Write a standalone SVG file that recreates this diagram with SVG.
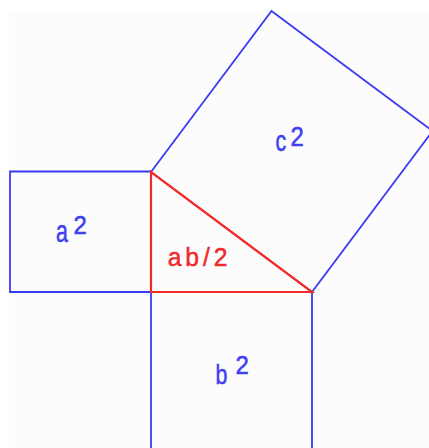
<svg xmlns="http://www.w3.org/2000/svg" width="429" height="448" viewBox="0 0 429 448">
  <style>
    .sq { fill: none; stroke: #3a3af2; stroke-width: 1.8; stroke-linejoin: miter; }
    .tri { fill: none; stroke: #f02a2a; stroke-width: 2.2; stroke-linejoin: miter; }
    .lb { font-family: "Liberation Sans", Arial, sans-serif; fill: #4040f0; stroke: #4040f0; stroke-width: 0.5; }
    .lr { font-family: "Liberation Sans", Arial, sans-serif; fill: #f02a2a; stroke: #f02a2a; stroke-width: 0.5; }
    .let { font-size: 26px; }
    .dig { font-size: 24px; }
  </style>
  <rect x="0" y="0" width="429" height="448" fill="#ffffff"/>
  <rect x="9" y="10" width="420" height="438" fill="#fcfcfd"/>

  <g id="square-a">
    <polyline class="sq" points="151,171.5 10,171.5 10,292 151,292"/>
    <text class="lb let" transform="translate(56,242) scale(0.82,1.22)">a</text>
    <text class="lb dig" transform="translate(73.5,234) scale(1,1.1)">2</text>
  </g>

  <g id="square-b">
    <polyline class="sq" points="151,292 151,449"/>
    <polyline class="sq" points="312,292 312,449"/>
    <text class="lb let" transform="translate(215.5,384) scale(0.82,1.05)">b</text>
    <text class="lb dig" transform="translate(235.5,374) scale(1,1.1)">2</text>
  </g>

  <g id="square-c">
    <polyline class="sq" points="151,172 271.5,11 432.5,131 312,292"/>
    <text class="lb let" transform="translate(275.5,151) scale(0.82,1.1)">c</text>
    <text class="lb dig" transform="translate(290.5,146) scale(1,1.15)">2</text>
  </g>

  <g id="triangle">
    <polygon class="tri" points="151,172 151,292 312,292"/>
    <text class="lr let" x="176.5" y="266" textLength="63" lengthAdjust="spacing" transform="scale(0.95,1)">ab/2</text>
  </g>

  <g id="connectors"/>
</svg>
